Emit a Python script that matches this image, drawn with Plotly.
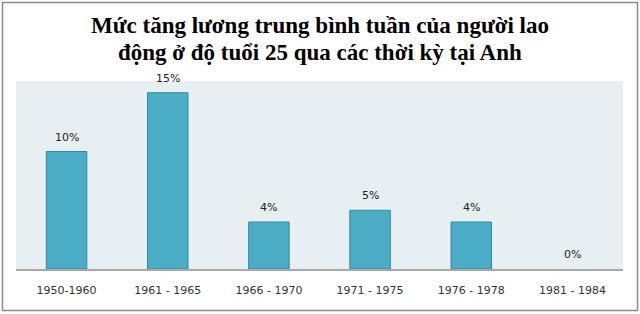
import plotly.graph_objects as go

categories = ["1950-1960", "1961 - 1965", "1966 - 1970", "1971 - 1975", "1976 - 1978", "1981 - 1984"]
values = [10, 15, 4, 5, 4, 0]
labels = ["10%", "15%", "4%", "5%", "4%", "0%"]
title_lines = ["Mức tăng lương trung bình tuần của người lao",
               "động ở độ tuổi 25 qua các thời kỳ tại Anh"]

W, H = 640, 314
L, R, T, B = 16, 17, 81, 45

fig = go.Figure()
fig.add_trace(go.Bar(
    x=categories, y=values,
    marker=dict(color="#4BACC6",
                line=dict(color="#2E8AA6", width=[0 if v == 0 else 1 for v in values])),
    width=0.4, cliponaxis=False,
))

for c, v, t in zip(categories, values, labels):
    fig.add_annotation(x=c, y=v, text=t, showarrow=False, yanchor="bottom", yshift=6,
                       font=dict(family="DejaVu Sans", size=11, color="#222222"))

pw, ph = W - L - R, H - T - B
def px2x(p):
    return (p - L) / pw
def py2y(p):
    return (H - B - p) / ph

title_centers = [25.5, 53]
for line, cy in zip(title_lines, title_centers):
    fig.add_annotation(x=0.5, xref="paper", y=py2y(cy), yref="paper", text=line,
                       showarrow=False, xanchor="center", yanchor="middle",
                       font=dict(family="Liberation Serif", size=23, color="black", weight="bold"))

fig.add_shape(type="rect", xref="paper", yref="paper",
              x0=px2x(2.5), x1=px2x(637.5), y0=py2y(310.5), y1=py2y(2.5),
              line=dict(color="#8a8a8a", width=1.5), fillcolor="rgba(0,0,0,0)", layer="above")

fig.update_layout(
    width=W, height=H,
    margin=dict(l=L, r=R, t=T, b=B),
    paper_bgcolor="white", plot_bgcolor="#E8EFF3",
    showlegend=False,
    xaxis=dict(showgrid=False, showline=True, linecolor="#A8A8A8", linewidth=2,
               ticks="outside", ticklen=10, tickcolor="rgba(0,0,0,0)",
               tickfont=dict(family="DejaVu Sans", size=11, color="#333333"), fixedrange=True),
    yaxis=dict(range=[0, 16], showgrid=False, showticklabels=False, zeroline=False,
               showline=False, fixedrange=True),
    bargap=0.6,
)

fig.write_html("out.html")
